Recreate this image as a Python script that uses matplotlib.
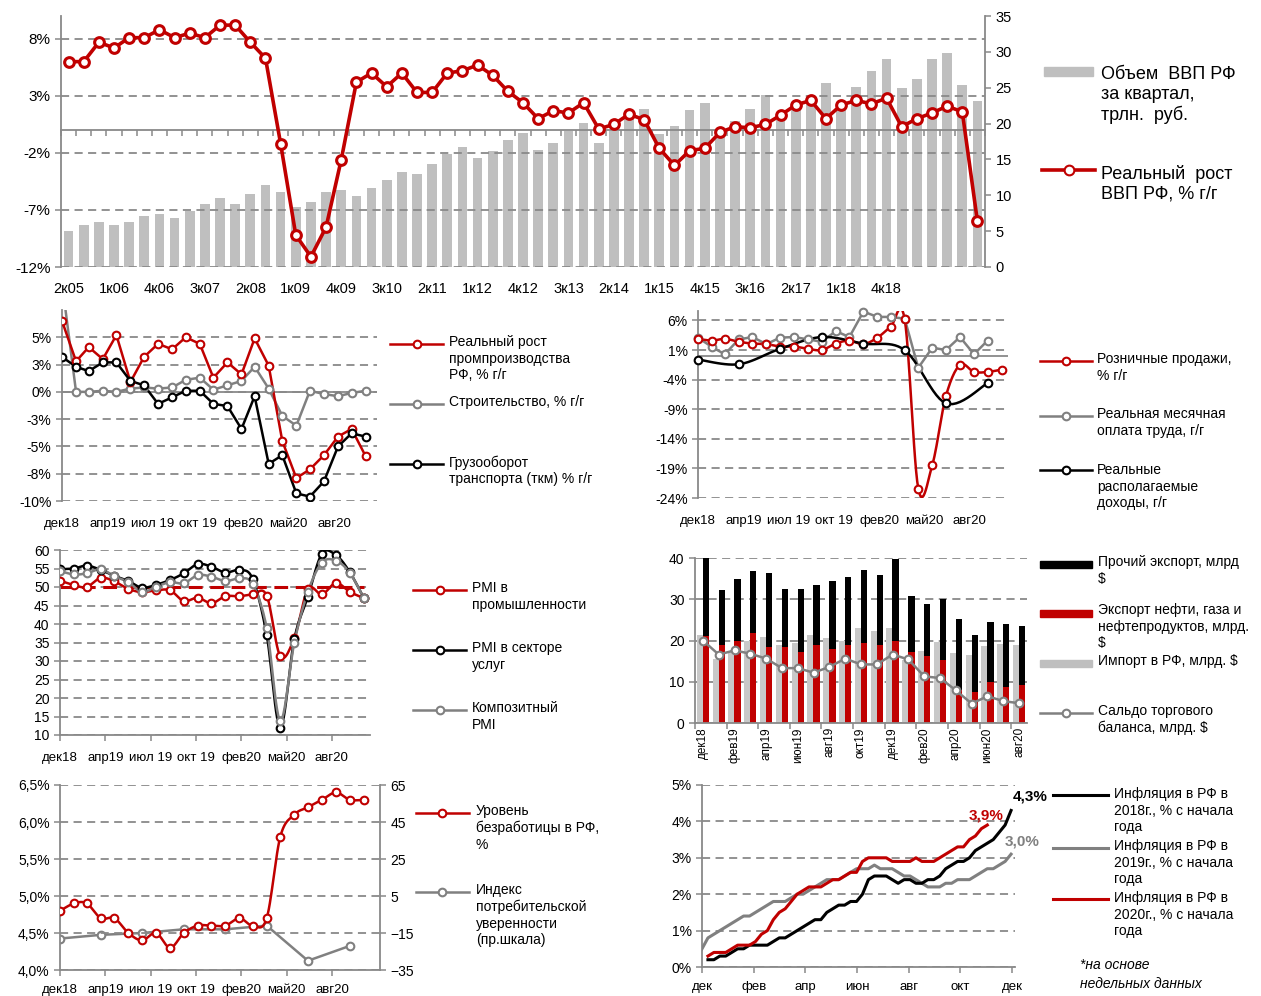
import numpy as np
import pandas as pd
import matplotlib
matplotlib.use("Agg")
import matplotlib.pyplot as plt
from matplotlib.lines import Line2D
from matplotlib.patches import Rectangle

plt.rcParams['font.family'] = ['Liberation Sans', 'DejaVu Sans']

# ---------------- data ----------------
# top: quarterly GDP, 2к05 .. 2к20
gdp_volume = [5.0, 5.8, 6.3, 5.8, 6.3, 7.1, 7.4, 6.9, 7.8, 8.8, 9.6, 8.8, 10.2, 11.5, 10.5,
              8.3, 9.1, 10.5, 10.7, 9.9, 11.0, 12.1, 13.2, 13.0, 14.3, 15.7, 16.8, 15.2, 16.2,
              17.7, 18.7, 16.3, 17.3, 19.0, 20.1, 17.3, 19.0, 20.7, 22.1, 18.5, 19.6, 21.9,
              22.9, 18.6, 20.4, 22.1, 24.0, 20.5, 21.9, 23.7, 25.7, 22.3, 25.1, 27.3, 29.0,
              24.9, 26.2, 29.0, 29.8, 25.4, 23.2]
gdp_growth = [6.0, 6.0, 7.7, 7.2, 8.1, 8.1, 8.8, 8.1, 8.5, 8.1, 9.2, 9.2, 7.7, 6.3, -1.2,
              -9.2, -11.1, -8.5, -2.6, 4.2, 5.0, 3.8, 5.0, 3.3, 3.3, 5.0, 5.2, 5.7, 4.8, 3.4,
              2.4, 1.0, 1.7, 1.5, 2.4, 0.1, 0.5, 1.4, 0.9, -1.6, -3.1, -1.8, -1.6, -0.2, 0.3,
              0.2, 0.5, 1.3, 2.2, 2.6, 1.0, 2.2, 2.6, 2.3, 2.8, 0.3, 1.0, 1.5, 2.1, 1.6, -8.0]
quarter_labels = ['2к05', '1к06', '4к06', '3к07', '2к08', '1к09', '4к09', '3к10', '2к11', '1к12',
                  '4к12', '3к13', '2к14', '1к15', '4к15', '3к16', '2к17', '1к18', '4к18']

# monthly series, дек18 .. окт20
month_dates = pd.date_range('2018-12-31', periods=23, freq='ME')
date_tick_labels = ['дек18', 'апр19', 'июл 19', 'окт 19', 'фев20', 'май20', 'авг20']

industry = [6.5, 2.8, 4.1, 3.0, 5.2, 0.9, 3.2, 4.4, 3.9, 5.0, 4.4, 1.3, 2.7, 1.6, 4.9, 2.4,
            -4.5, -7.9, -7.1, -5.8, -4.1, -3.4, -5.9]
construction = [10.0, 0.0, 0.0, 0.1, 0.0, 0.3, 0.4, 0.3, 0.4, 1.1, 1.3, 0.2, 0.6, 1.0, 2.3, 0.3,
                -2.2, -3.1, 0.1, -0.2, -0.4, -0.1, 0.1]
cargo = [3.2, 2.3, 1.9, 2.7, 2.7, 1.0, 0.6, -1.1, -0.5, 0.1, 0.1, -1.1, -1.3, -3.4, -0.4, -6.6,
         -5.8, -9.3, -9.6, -8.2, -5.0, -3.8, -4.1]
pct_ticks_ind = [-10, -7.5, -5, -2.5, 0, 2.5, 5]
pct_labels_ind = ['-10%', '-8%', '-5%', '-3%', '0%', '3%', '5%']

retail = [2.9, 2.6, 2.9, 2.4, 2.1, 2.0, 1.6, 1.6, 1.2, 1.0, 2.1, 2.6, 2.0, 3.1, 4.9, 6.2,
          -22.4, -18.4, -6.8, -1.5, -2.7, -2.7, -2.3]
wages = [3.1, 1.5, 0.3, 2.8, 3.2, 2.0, 3.1, 3.2, 2.8, 2.4, 4.2, 3.2, 7.5, 6.6, 6.6, 6.3, -2.0,
         1.4, 1.0, 3.2, 0.3, 2.6]
income_q = [-0.6, -1.4, 1.2, 3.2, 2.1, 1.0, -8.0, -4.6]

pmi_manuf = [51.7, 50.5, 50.0, 52.5, 51.5, 49.5, 48.6, 49.1, 49.1, 46.2, 47.1, 45.6, 47.5,
             47.5, 48.0, 47.7, 31.3, 36.2, 49.4, 48.0, 51.1, 48.7, 47.0]
pmi_serv = [54.8, 55.0, 55.8, 54.6, 53.0, 51.6, 49.8, 50.6, 51.9, 53.7, 56.2, 55.5, 53.9,
            54.6, 52.2, 37.1, 12.0, 35.9, 47.4, 59.0, 58.6, 54.1, 47.1]
pmi_comp = [54.3, 53.4, 53.7, 54.8, 52.9, 51.3, 48.6, 50.1, 51.3, 51.0, 53.2, 52.8, 51.6,
            52.3, 50.8, 39.0, 13.9, 35.0, 48.7, 56.6, 57.1, 53.9, 47.1]
pmi_threshold = 50

unemployment = [4.8, 4.9, 4.9, 4.7, 4.7, 4.5, 4.4, 4.5, 4.3, 4.5, 4.6, 4.6, 4.6, 4.7, 4.6, 4.7,
                5.8, 6.1, 6.2, 6.3, 6.4, 6.3, 6.3]
confidence_q = [-18, -16, -15, -13, -13, -11, -30, -22]

# trade, дек18 .. авг20
trade_labels = ['дек18', 'янв19', 'фев19', 'мар19', 'апр19', 'май19', 'июн19', 'июл19', 'авг19',
                'сен19', 'окт19', 'ноя19', 'дек19', 'янв20', 'фев20', 'мар20', 'апр20', 'май20',
                'июн20', 'июл20', 'авг20']
oil_gas_exp = [21.0, 18.8, 19.8, 21.7, 18.4, 18.4, 17.1, 18.8, 18.0, 18.8, 19.4, 18.8, 19.8,
               17.1, 16.2, 15.2, 8.0, 7.5, 9.9, 8.7, 9.1]
other_exp = [20.1, 13.4, 15.2, 15.1, 18.0, 14.1, 15.4, 14.7, 16.4, 16.5, 17.8, 17.1, 19.9,
             13.6, 12.7, 14.9, 17.2, 13.8, 14.7, 15.4, 14.4]
imports = [21.3, 15.6, 17.4, 20.0, 20.8, 18.8, 19.5, 21.3, 20.7, 20.0, 23.1, 22.3, 23.1, 15.3,
           17.5, 19.6, 17.0, 16.6, 18.7, 19.2, 19.0]
trade_balance = [20.0, 16.6, 17.6, 16.8, 15.6, 13.3, 13.3, 12.2, 13.6, 15.6, 14.2, 14.2, 16.6,
                 15.4, 11.3, 10.9, 7.9, 4.7, 6.5, 5.3, 4.8]

# weekly cumulative inflation
infl_2018 = [0.2, 0.2, 0.3, 0.3, 0.4, 0.5, 0.5, 0.6, 0.6, 0.6, 0.6, 0.7, 0.8, 0.8, 0.9, 1.0,
             1.1, 1.2, 1.3, 1.3, 1.5, 1.6, 1.7, 1.7, 1.8, 1.8, 2.0, 2.4, 2.5, 2.5, 2.5, 2.4,
             2.3, 2.4, 2.4, 2.3, 2.3, 2.4, 2.4, 2.5, 2.7, 2.8, 2.9, 2.9, 3.0, 3.2, 3.3, 3.4,
             3.5, 3.7, 3.9, 4.3]
infl_2019 = [0.5, 0.8, 0.9, 1.0, 1.1, 1.2, 1.3, 1.4, 1.4, 1.5, 1.6, 1.7, 1.8, 1.8, 1.8, 1.9,
             2.0, 2.0, 2.1, 2.2, 2.3, 2.4, 2.4, 2.4, 2.5, 2.6, 2.7, 2.7, 2.7, 2.8, 2.7, 2.7,
             2.7, 2.6, 2.5, 2.5, 2.4, 2.3, 2.2, 2.2, 2.2, 2.3, 2.3, 2.4, 2.4, 2.4, 2.5, 2.6,
             2.7, 2.7, 2.8, 2.9, 3.1]
infl_2020 = [0.3, 0.4, 0.4, 0.4, 0.5, 0.6, 0.6, 0.6, 0.7, 0.9, 1.0, 1.3, 1.5, 1.6, 1.8, 2.0,
             2.1, 2.2, 2.2, 2.2, 2.3, 2.4, 2.4, 2.5, 2.6, 2.6, 2.9, 3.0, 3.0, 3.0, 3.0, 2.9,
             2.9, 2.9, 2.9, 3.0, 2.9, 2.9, 2.9, 3.0, 3.1, 3.2, 3.3, 3.3, 3.5, 3.6, 3.8, 3.9]
infl_final_labels = ['4,3%', '3,0%', '3,9%']
infl_month_labels = ['дек', 'фев', 'апр', 'июн', 'авг', 'окт', 'дек']

# ---------------- style ----------------
W, H = 1261, 996
RED = '#C00000'
BLACK = '#000000'
GRAY = '#808080'
LIGHT = '#BFBFBF'
AXC = '#898989'
DASH = (0, (4.5, 3))
LEG = 10

fig = plt.figure(figsize=(W / 100, H / 100), dpi=100)


def add_ax(l, t, r, b):
    return fig.add_axes([l / W, 1 - b / H, (r - l) / W, (b - t) / H])


def base_style(ax, left=True, right=False, bottom=False):
    for s in ['top', 'right', 'bottom', 'left']:
        ax.spines[s].set_visible(False)
    for s, on in [('left', left), ('right', right), ('bottom', bottom)]:
        if on:
            ax.spines[s].set_visible(True)
            ax.spines[s].set_color(AXC)
            ax.spines[s].set_linewidth(1.3)
    ax.tick_params(colors=AXC, labelcolor='black', labelsize=10, width=1.1, length=4)
    ax.yaxis.grid(True, color=AXC, ls=DASH, lw=1.3)
    ax.set_axisbelow(True)


def smooth(x, y, n=14):
    # Excel-like smoothed line through the points (bezier, 1/6 tangents)
    x = np.asarray(x, float)
    y = np.asarray(y, float)
    px = np.r_[x[0], x, x[-1]]
    py = np.r_[y[0], y, y[-1]]
    ox, oy = [x[0]], [y[0]]
    t = np.linspace(0, 1, n)[1:]
    for i in range(len(x) - 1):
        c1x = x[i] + (px[i + 2] - px[i]) / 6
        c1y = y[i] + (py[i + 2] - py[i]) / 6
        c2x = x[i + 1] - (px[i + 3] - px[i + 1]) / 6
        c2y = y[i + 1] - (py[i + 3] - py[i + 1]) / 6
        bx = (1 - t) ** 3 * x[i] + 3 * (1 - t) ** 2 * t * c1x + 3 * (1 - t) * t ** 2 * c2x + t ** 3 * x[i + 1]
        by = (1 - t) ** 3 * y[i] + 3 * (1 - t) ** 2 * t * c1y + 3 * (1 - t) * t ** 2 * c2y + t ** 3 * y[i + 1]
        ox.extend(bx)
        oy.extend(by)
    return np.array(ox), np.array(oy)


def series(ax, x, y, color, smooth_line=False, lw=1.8, ms=5.5, mew=1.5, z=3, clip=True):
    if smooth_line:
        sx, sy = smooth(x, y)
    else:
        sx, sy = x, y
    ax.plot(sx, sy, color=color, lw=lw, zorder=z, solid_joinstyle='round')
    ax.plot(x, y, ls='none', marker='o', ms=ms, mfc='white', mec=color, mew=mew, zorder=z + 0.1,
            clip_on=clip)


def fx(p):
    return p / W


def fy(p):
    return 1 - p / H


def key_line(x0, x1, y, color, marker=True, lw=1.8, ms=5.5):
    fig.add_artist(Line2D([fx(x0), fx(x1)], [fy(y), fy(y)], color=color, lw=lw,
                          transform=fig.transFigure))
    if marker:
        fig.add_artist(Line2D([fx((x0 + x1) / 2)], [fy(y)], marker='o', ms=ms, mfc='white',
                              mec=color, mew=1.5, transform=fig.transFigure))


def key_patch(x0, x1, y, h, color):
    fig.add_artist(Rectangle((fx(x0), fy(y + h / 2)), (x1 - x0) / W, h / H, color=color,
                             transform=fig.transFigure))


def key_text(x, y, s, size=LEG, ls=1.22, **kw):
    fig.text(fx(x), fy(y - size * 100 / 72 * 0.62), s, fontsize=size, va='top', ha='left',
             linespacing=ls, **kw)


day_x = (month_dates - month_dates[0]).days.values.astype(float)
tick_days = np.arange(len(date_tick_labels)) * 100
quarter_x = day_x[::3]


def date_axis(ax, right_day, pad=5, ticks=False):
    ax.set_xlim(0, right_day)
    ax.set_xticks(tick_days, date_tick_labels)
    ax.tick_params(axis='x', length=4 if ticks else 0, pad=pad, labelsize=9.5)


# ---------------- 1. GDP ----------------
ax1 = add_ax(61, 16, 985, 267)
ax1r = ax1.twinx()
qx = np.arange(len(gdp_volume))
ax1r.bar(qx, gdp_volume, width=0.64, color=LIGHT, zorder=1)
ax1r.set_ylim(0, 35)
ax1r.set_yticks(np.arange(0, 36, 5))
for s in ['top', 'left', 'bottom']:
    ax1r.spines[s].set_visible(False)
ax1r.spines['right'].set_color(AXC)
ax1r.spines['right'].set_linewidth(1.3)
ax1r.tick_params(colors=AXC, labelcolor='black', labelsize=10.5, width=1.1, length=4)
ax1.set_zorder(ax1r.get_zorder() + 1)
ax1.patch.set_visible(False)
base_style(ax1)
ax1.plot(qx, gdp_growth, color=RED, lw=2.6, zorder=3)
ax1.plot(qx, gdp_growth, ls='none', marker='o', ms=7, mfc='white', mec=RED, mew=2.2, zorder=4)
ax1.set_ylim(-12, 10)
ax1.set_yticks([-12, -7, -2, 3, 8], ['-12%', '-7%', '-2%', '3%', '8%'])
ax1.tick_params(axis='y', labelsize=11)
ax1.set_xlim(-0.5, len(gdp_volume) - 0.5)
ax1.set_xticks(qx[:len(quarter_labels) * 3:3], quarter_labels)
ax1.tick_params(axis='x', length=0, pad=11, labelsize=10.5)
sec = ax1.secondary_xaxis(12 / 22)
sec.set_xticks(np.arange(-0.5, len(gdp_volume), 1))
sec.xaxis.set_ticks_position('bottom')
sec.tick_params(axis='x', direction='out', length=4, color=AXC, width=1.1,
                labelbottom=False, labeltop=False)
for s in sec.spines.values():
    s.set_color(AXC)
    s.set_linewidth(1.3)

key_patch(1044, 1093, 71, 9, LIGHT)
key_text(1101, 77, 'Объем  ВВП РФ\nза квартал,\nтрлн.  руб.', size=13, ls=1.22)
key_line(1042, 1095, 170, RED, lw=2.6, ms=7)
key_text(1101, 176, 'Реальный  рост\nВВП РФ, % г/г', size=13, ls=1.22)

# ---------------- 2. industry ----------------
ax2 = add_ax(62, 310, 377, 501)
base_style(ax2)
series(ax2, day_x, construction, GRAY)
series(ax2, day_x, industry, RED)
series(ax2, day_x, cargo, BLACK)
ax2.axhline(0, color=AXC, lw=1.3, zorder=2)
ax2.set_ylim(-10, 7.5)
ax2.set_yticks(pct_ticks_ind, pct_labels_ind)
date_axis(ax2, 695, pad=12)

key_line(390, 443, 344, RED)
key_text(449, 344, 'Реальный рост\nпромпроизводства\nРФ, % г/г')
key_line(390, 443, 404, GRAY)
key_text(449, 404, 'Строительство, % г/г')
key_line(390, 443, 464, BLACK)
key_text(449, 464, 'Грузооборот\nтранспорта (ткм) % г/г')

# ---------------- 3. retail ----------------
ax3 = add_ax(698, 311, 1008, 498)
base_style(ax3)
series(ax3, day_x[:len(wages)], wages, GRAY, clip=False)
series(ax3, day_x, retail, RED, smooth_line=True, clip=False)
series(ax3, quarter_x, income_q, BLACK, smooth_line=True, clip=False)
ax3.axhline(0, color=AXC, lw=1.3, zorder=2)
ax3.set_ylim(-24, 7.6)
ret_ticks = np.arange(-24, 7, 5)
ax3.set_yticks(ret_ticks, [f'{v}%' for v in ret_ticks])
date_axis(ax3, 684, pad=12)

key_line(1040, 1092, 361, RED)
key_text(1097, 361, 'Розничные продажи,\n% г/г')
key_line(1040, 1092, 416, GRAY)
key_text(1097, 416, 'Реальная месячная\nоплата труда, г/г')
key_line(1040, 1092, 470, BLACK)
key_text(1097, 472, 'Реальные\nрасполагаемые\nдоходы, г/г')

# ---------------- 4. PMI ----------------
ax4 = add_ax(60, 550, 370, 735)
base_style(ax4, bottom=True)
ax4.hlines(pmi_threshold, day_x[0], day_x[-1], color=RED, lw=2.2, ls=(0, (4.5, 2.5)), zorder=2)
series(ax4, day_x, pmi_manuf, RED, smooth_line=True)
series(ax4, day_x, pmi_serv, BLACK, smooth_line=True)
series(ax4, day_x, pmi_comp, GRAY, smooth_line=True)
ax4.set_ylim(10, 60)
ax4.set_yticks(np.arange(10, 61, 5))
date_axis(ax4, 684, pad=8, ticks=True)

key_line(413, 466, 590, RED)
key_text(472, 590, 'PMI в\nпромышленности')
key_line(413, 466, 650, BLACK)
key_text(472, 650, 'PMI в секторе\nуслуг')
key_line(413, 466, 710, GRAY)
key_text(472, 710, 'Композитный\nPMI')

# ---------------- 5. trade ----------------
ax5 = add_ax(695, 558, 1027, 723)
base_style(ax5, bottom=True)
tx = np.arange(len(trade_labels))
ax5.bar(tx - 0.19, imports, width=0.4, color='#C8C8C8', zorder=2)
ax5.bar(tx + 0.19, oil_gas_exp, width=0.4, color=RED, zorder=2)
ax5.bar(tx + 0.19, other_exp, width=0.4, bottom=oil_gas_exp, color=BLACK, zorder=2)
series(ax5, tx, trade_balance, GRAY, z=4)
ax5.set_xlim(-0.5, len(tx) - 0.5)
ax5.set_ylim(0, 40)
ax5.set_yticks(np.arange(0, 41, 10))
ax5.set_xticks(tx[::2], trade_labels[::2], rotation=90)
ax5.set_xticks(np.arange(-0.5, len(tx), 2), minor=True)
ax5.tick_params(axis='x', which='major', length=0, pad=3, labelsize=8.5)
ax5.tick_params(axis='x', which='minor', length=4, color=AXC, width=1.1)

key_patch(1040, 1092, 564, 7, BLACK)
key_text(1098, 564, 'Прочий экспорт, млрд\n$')
key_patch(1040, 1092, 613, 7, RED)
key_text(1098, 612, 'Экспорт нефти, газа и\nнефтепродуктов, млрд.\n$')
key_patch(1040, 1092, 663, 7, LIGHT)
key_text(1098, 663, 'Импорт в РФ, млрд. $')
key_line(1040, 1092, 713, GRAY)
key_text(1098, 713, 'Сальдо торгового\nбаланса, млрд. $')

# ---------------- 6. unemployment ----------------
ax6 = add_ax(60, 785, 380, 970)
ax6r = ax6.twinx()
base_style(ax6, bottom=True)
for s in ['top', 'left', 'bottom']:
    ax6r.spines[s].set_visible(False)
ax6r.spines['right'].set_color(AXC)
ax6r.spines['right'].set_linewidth(1.3)
ax6r.tick_params(colors=AXC, labelcolor='black', labelsize=10, width=1.1, length=4)
series(ax6r, quarter_x, confidence_q, GRAY)
ax6r.set_ylim(-35, 65)
ax6r.set_yticks(np.arange(-35, 66, 20))
ax6.set_zorder(ax6r.get_zorder() + 1)
ax6.patch.set_visible(False)
series(ax6, day_x, unemployment, RED, smooth_line=True)
ax6.set_ylim(4.0, 6.5)
un_ticks = np.arange(4.0, 6.51, 0.5)
ax6.set_yticks(un_ticks, [f'{v:.1f}%'.replace('.', ',') for v in un_ticks])
date_axis(ax6, 706, pad=6, ticks=True)

key_line(416, 469, 813, RED)
key_text(476, 813, 'Уровень\nбезработицы в РФ,\n%')
key_line(416, 469, 892, GRAY)
key_text(476, 892, 'Индекс\nпотребительской\nуверенности\n(пр.шкала)')

# ---------------- 7. inflation ----------------
ax7 = add_ax(702, 785, 1015, 967)
base_style(ax7, bottom=True)
weeks_to_month = 12 / 52.14
x18 = (np.arange(len(infl_2018)) + 1) * weeks_to_month
x19 = np.arange(len(infl_2019)) * weeks_to_month
x20 = (np.arange(len(infl_2020)) + 1) * weeks_to_month
ax7.plot(x19, infl_2019, color=GRAY, lw=2.2, zorder=3)
ax7.plot(x18, infl_2018, color=BLACK, lw=2.2, zorder=4)
ax7.plot(x20, infl_2020, color=RED, lw=2.2, zorder=5)
ax7.set_ylim(0, 5)
ax7.set_yticks(np.arange(0, 6), [f'{v}%' for v in range(6)])
ax7.set_xlim(0, 12.12)
ax7.set_xticks(np.arange(0, 13, 2), infl_month_labels)
ax7.tick_params(axis='x', length=4, pad=6, labelsize=9.5)
for xs, ys, lab, col, off in [(x18, infl_2018, infl_final_labels[0], BLACK, (14, 10)),
                              (x19, infl_2019, infl_final_labels[1], GRAY, (8, 9)),
                              (x20, infl_2020, infl_final_labels[2], RED, (-1, 7))]:
    ax7.annotate(lab, (xs[-1], ys[-1]), xytext=off, textcoords='offset points',
                 ha='center', va='center', fontsize=11, fontweight='bold', color=col,
                 annotation_clip=False)

key_line(1053, 1108, 795, BLACK, marker=False, lw=2.2)
key_text(1114, 796, 'Инфляция в РФ в\n2018г., % с начала\nгода')
key_line(1053, 1108, 848, GRAY, marker=False, lw=2.2)
key_text(1114, 848, 'Инфляция в РФ в\n2019г., % с начала\nгода')
key_line(1053, 1108, 899, RED, marker=False, lw=2.2)
key_text(1114, 900, 'Инфляция в РФ в\n2020г., % с начала\nгода')
key_text(1080, 967, '*на основе\nнедельных данных', size=10, ls=1.4, style='italic')

fig.savefig('out.png', dpi=100)
